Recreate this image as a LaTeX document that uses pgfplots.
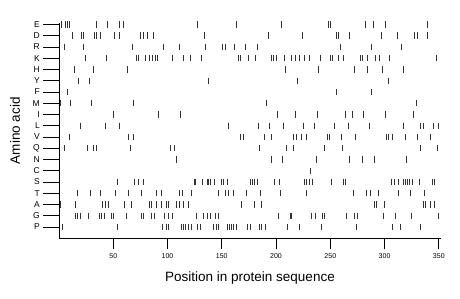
\documentclass[border=0pt]{standalone}
\usepackage{pgfplots}
\pgfplotsset{compat=1.18}
\usepackage{fontspec}
\setmainfont{Liberation Sans}
\begin{document}
\begin{tikzpicture}
\path[use as bounding box] (-59pt,-60.7pt) rectangle (401pt,238.3pt);
\begin{axis}[
  at={(0,0)}, anchor=south west,
  scale only axis, width=382pt, height=215pt,
  xmin=0, xmax=352, ymin=-1, ymax=18.1,
  clip=false,
  axis x line=bottom, axis y line=left,
  axis line style={-, line width=0.8pt},
  tick align=outside,
  major tick length=15.7pt,
  minor tick length=11pt,
  tick style={line width=0.8pt, black},
  xtick={50,100,...,350},
  minor xtick={50,100,...,350},
  major x tick style={draw=none},
  ytick={0,...,18},
  yticklabels={P,G,A,T,S,C,N,Q,V,L,I,M,F,Y,H,K,R,D,E},
  /pgf/number format/assume math mode=true,
  xticklabel style={font=\fontsize{7}{8}\selectfont, yshift=4pt},
  yticklabel style={font=\fontsize{8.5}{10}\selectfont},
  xlabel={Position in protein sequence},
  ylabel={Amino acid},
  every axis x label/.style={at={([yshift=-39.4pt]axis description cs:0.5,0)}, anchor=center, font=\fontsize{13.5}{15}\selectfont},
  every axis y label/.style={at={([xshift=-44pt]axis description cs:0,0.5)}, rotate=90, anchor=center, font=\fontsize{13.5}{15}\selectfont},
  mk/.style={only marks, mark=|, mark size=3.2pt, mark options={line width=1pt, black!80}},
]
\addplot[mk] table[row sep=\\, y expr=18]{x\\2\\6\\8\\10\\35\\45\\56\\59\\128\\164\\205\\248\\250\\282\\290\\301\\340\\};
\addplot[mk] table[row sep=\\, y expr=17]{x\\12\\21\\23\\33\\35\\38\\51\\56\\75\\78\\82\\87\\134\\193\\224\\256\\258\\268\\297\\312\\328\\330\\340\\};
\addplot[mk] table[row sep=\\, y expr=16]{x\\5\\23\\68\\96\\111\\135\\151\\153\\162\\172\\183\\259\\288\\316\\};
\addplot[mk] table[row sep=\\, y expr=15]{x\\24\\44\\71\\73\\80\\83\\86\\89\\91\\105\\115\\121\\131\\165\\167\\175\\181\\196\\198\\200\\208\\214\\218\\222\\226\\231\\241\\250\\252\\258\\262\\278\\280\\284\\292\\295\\305\\348\\};
\addplot[mk] table[row sep=\\, y expr=14]{x\\14\\32\\63\\209\\239\\272\\284\\298\\317\\};
\addplot[mk] table[row sep=\\, y expr=13]{x\\18\\28\\138\\220\\304\\};
\addplot[mk] table[row sep=\\, y expr=12]{x\\8\\256\\288\\};
\addplot[mk] table[row sep=\\, y expr=11]{x\\1\\11\\30\\69\\191\\329\\};
\addplot[mk] table[row sep=\\, y expr=10]{x\\50\\92\\112\\201\\218\\238\\264\\270\\281\\301\\327\\};
\addplot[mk] table[row sep=\\, y expr=9]{x\\20\\43\\56\\156\\184\\194\\207\\225\\235\\254\\267\\286\\317\\333\\336\\345\\350\\};
\addplot[mk] table[row sep=\\, y expr=8]{x\\10\\64\\69\\167\\170\\189\\196\\216\\219\\223\\228\\247\\249\\260\\273\\302\\304\\307\\319\\330\\342\\};
\addplot[mk] table[row sep=\\, y expr=7]{x\\5\\26\\32\\35\\66\\103\\106\\185\\210\\216\\245\\261\\333\\349\\};
\addplot[mk] table[row sep=\\, y expr=6]{x\\108\\196\\206\\237\\268\\280\\291\\320\\};
\addplot[mk] table[row sep=\\, y expr=5]{x\\232\\};
\addplot[mk] table[row sep=\\, y expr=4]{x\\54\\70\\73\\78\\125\\126\\132\\137\\138\\140\\143\\150\\152\\155\\176\\178\\180\\183\\199\\203\\226\\228\\231\\234\\251\\262\\264\\306\\309\\313\\317\\319\\321\\323\\326\\332\\344\\346\\};
\addplot[mk] table[row sep=\\, y expr=3]{x\\17\\29\\38\\52\\64\\76\\90\\94\\111\\114\\122\\147\\153\\156\\161\\173\\186\\204\\228\\271\\283\\287\\294\\313\\324\\337\\};
\addplot[mk] table[row sep=\\, y expr=2]{x\\1\\15\\40\\43\\46\\60\\67\\83\\85\\90\\94\\99\\101\\108\\111\\115\\119\\168\\180\\187\\291\\293\\300\\336\\338\\342\\346\\};
\addplot[mk] table[row sep=\\, y expr=1]{x\\15\\17\\20\\27\\37\\39\\42\\48\\50\\62\\76\\78\\85\\88\\97\\101\\105\\127\\133\\137\\140\\144\\147\\202\\213\\214\\233\\236\\243\\245\\265\\272\\275\\299\\310\\325\\350\\};
\addplot[mk] table[row sep=\\, y expr=0]{x\\3\\54\\95\\99\\101\\113\\115\\117\\119\\122\\128\\130\\142\\145\\147\\155\\157\\159\\161\\164\\174\\176\\185\\187\\190\\211\\222\\242\\274\\307\\315\\333\\};
\end{axis}
\end{tikzpicture}
\end{document}
